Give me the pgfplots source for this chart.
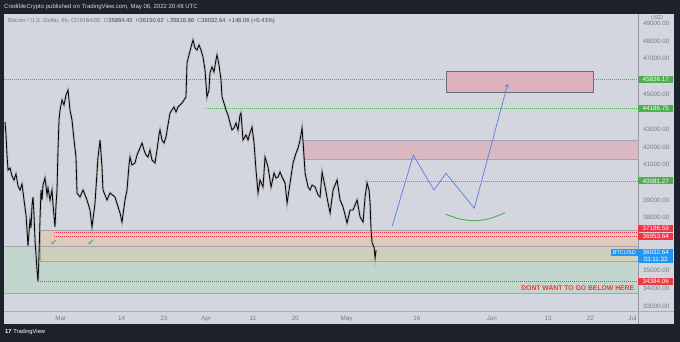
\documentclass[border=0pt]{standalone}
\usepackage{pgfplots}
\pgfplotsset{compat=1.18}
\usepackage{pgfplotstable}
\usetikzlibrary{arrows.meta}
\usepackage{fontspec}
\setmainfont{Liberation Sans}
\newfontfamily\dejavu{DejaVu Sans}
\definecolor{bgdark}{HTML}{1E222D}
\definecolor{pane}{HTML}{D3D6DE}
\definecolor{tvgray}{HTML}{787B86}
\definecolor{tvtext}{HTML}{434651}
\definecolor{tvgreen}{HTML}{4CAF50}
\definecolor{tvred}{HTML}{F23645}
\definecolor{tvblue}{HTML}{2196F3}
\definecolor{pinkbox}{HTML}{DDB2BD}
\definecolor{pinkbox2}{HTML}{D9B8C2}
\definecolor{boxborder}{HTML}{6A6D78}
\definecolor{tanzone}{HTML}{DCCBBD}
\definecolor{olivezone}{HTML}{CFD0B9}
\definecolor{greenzone}{HTML}{C3D6CD}
\definecolor{zoneline}{HTML}{A3A6AF}
\definecolor{pathblue}{HTML}{5C7CE0}
\definecolor{sepline}{HTML}{9598A1}

\pgfplotstableread{
d p
-11.88 43416
-11.67 42681
-11.46 41549
-11.24 40700
-10.82 40813
-10.39 40360
-9.96 40134
-9.54 40474
-9.11 39795
-8.68 39568
-8.26 39908
-7.83 39002
-7.40 38153
-7.19 37305
-6.98 36399
-6.76 37191
-6.55 37870
-6.34 37418
-6.12 38719
-5.91 39172
-5.70 38153
-5.48 36739
-5.27 35890
-5.06 35041
-4.84 34384
-4.63 35890
-4.42 37870
-4.20 39568
-3.99 39002
-3.78 39851
-3.35 40247
-2.92 39285
-2.71 39681
-2.28 39002
-1.86 39568
-1.64 38719
-1.22 37474
-1.00 38719
-0.79 39568
-0.58 41832
-0.36 43529
-0.15 44095
0.28 44661
0.70 44378
1.13 44944
1.56 45227
1.98 44095
2.41 43529
2.84 42398
3.26 41436
3.48 39398
4.12 39172
4.76 39568
5.61 39002
6.25 38436
6.68 37474
7.32 38832
7.96 41436
8.39 42398
8.81 40870
9.02 39568
9.88 39002
10.52 39398
11.58 39172
12.65 38267
13.08 37757
13.72 39002
14.15 39568
14.57 40983
14.79 41436
15.21 40983
15.85 41096
16.28 41549
16.92 41945
17.35 42228
17.77 41832
18.20 41549
18.63 41436
19.05 41832
19.48 41266
20.12 41096
20.55 41832
20.97 42681
21.19 42963
21.61 42398
22.04 42228
22.47 42567
22.89 43246
23.32 43926
23.75 44095
24.17 44265
24.60 43982
25.03 44265
25.45 44378
25.88 44491
26.31 44661
26.73 44831
26.95 46755
27.37 47208
27.80 47660
28.23 48057
28.65 47604
29.08 47491
29.51 47774
29.93 47491
30.36 47095
30.79 46359
31.21 44831
31.64 45227
31.85 46189
32.28 46529
32.71 46246
33.13 46925
33.35 47208
33.78 46642
34.20 45793
34.42 44831
34.84 44491
35.27 44095
35.70 43812
36.12 43360
36.55 42963
36.98 43077
37.40 43360
37.83 42963
38.26 43812
38.47 43926
38.90 42398
39.54 42681
39.97 42398
40.39 42794
40.82 43133
41.25 42228
41.67 40700
42.10 39398
42.53 40134
43.17 39738
43.60 41436
44.24 40870
44.88 39738
45.52 40530
45.95 40247
46.38 40304
46.80 40587
47.23 40304
47.87 39964
48.30 38832
48.94 39964
49.58 41096
50.22 41662
50.65 41945
51.07 42398
51.50 43077
51.93 41436
52.14 40530
52.78 39738
53.21 39568
53.64 39851
54.28 39738
54.92 39285
55.34 39172
55.77 40587
56.41 39738
57.05 38832
57.48 38267
58.12 39568
58.54 39851
58.97 40134
59.61 39002
60.25 38606
60.68 38153
61.10 37700
61.74 38436
62.38 38436
62.81 38719
63.24 39002
63.88 38040
64.52 37757
64.94 39172
65.37 39964
65.80 39568
66.01 38832
66.22 37305
66.44 36569
66.86 36342
67.08 35720
67.29 36173
}\btc

\begin{document}
\begin{tikzpicture}[x=1pt,y=1pt]
\fill[bgdark] (0,0) rectangle (680,342);
\fill[pane] (4,18) rectangle (674,328);
\draw[sepline, line width=0.6pt] (638,18) -- (638,328);
\draw[sepline!80, line width=0.8pt] (4,31) -- (674,31);

\begin{axis}[
  at={(4pt,31pt)}, anchor=south west,
  width=634pt, height=297pt, scale only axis,
  xmin=-12.10, xmax=123.18, ymin=32720.7, ymax=49528,
  axis line style={draw=none}, major tick length=0pt,
  clip=false,
  xtick={0,13,22,31,41,50,61,76,92,104,113,122},
  xticklabels={Mar,14,23,Apr,11,20,May,16,Jun,13,22,Jul},
  ytick={33000,34000,35000,38000,39000,41000,42000,43000,45000,47000,48000,49000},
  yticklabel pos=right,
  scaled y ticks=false,
  /pgf/number format/assume math mode=true,
  y tick label style={/pgf/number format/fixed, /pgf/number format/fixed zerofill, /pgf/number format/precision=2, /pgf/number format/1000 sep={}},
  tick label style={font=\fontsize{6.3}{7}\selectfont, text=tvgray},
  xticklabel style={anchor=base, yshift=-9.5pt},
  yticklabel style={anchor=west, inner sep=0pt, xshift=5pt},
]
% zones
\addplot[fill=greenzone, draw=none] coordinates {(-12.10,33722) (123.18,33722) (123.18,36359) (-12.10,36359)} --cycle;
\addplot[fill=tanzone, draw=none] coordinates {(-4.42,36359) (123.18,36359) (123.18,37264) (-4.42,37264)} --cycle;
\addplot[fill=olivezone, draw=none] coordinates {(-4.42,35510) (123.18,35510) (123.18,36359) (-4.42,36359)} --cycle;
\addplot[zoneline, line width=0.6pt] coordinates {(-12.10,33722) (123.18,33722)};
\addplot[zoneline, line width=0.6pt] coordinates {(-12.10,36359) (123.18,36359)};
\addplot[zoneline, line width=0.6pt] coordinates {(123.18,37264) (-4.42,37264) (-4.42,35510) (123.18,35510)};
% middle pink box
\addplot[fill=pinkbox2, draw=zoneline, line width=0.6pt] coordinates {(51.76,41305) (123.18,41305) (123.18,42358) (51.76,42358)} --cycle;
% dotted levels
\tikzset{lvl/.style={line width=0.8pt, dash pattern=on 0.8pt off 1.2pt}}
\addplot[tvred, lvl] coordinates {(-1.5,37186.59) (123.18,37186.59)};
\addplot[tvred, lvl] coordinates {(-1.5,36953.64) (123.18,36953.64)};
\addplot[tvred, lvl] coordinates {(-4.84,34384.06) (123.18,34384.06)};
\addplot[tvgreen, lvl] coordinates {(-12.10,45836.17) (123.18,45836.17)};
\addplot[tvgreen, lvl] coordinates {(31.0,44186.75) (123.18,44186.75)};
\addplot[tvgreen, lvl] coordinates {(64.94,40081.27) (123.18,40081.27)};
% upper pink box
\addplot[fill=pinkbox, draw=boxborder, line width=0.8pt] coordinates {(82.36,45074) (113.64,45074) (113.64,46302) (82.36,46302)} --cycle;
% price
\addplot[gray!70, line width=2.3pt, opacity=0.6] table {\btc};
\addplot[black, line width=0.8pt] table {\btc};
% projection
\addplot[pathblue, line width=0.7pt, -{Straight Barb[length=2.5pt,width=3.5pt]}] coordinates {(70.75,37530) (75.23,41548) (79.65,39568) (82.21,40513) (88.24,38532) (95.37,45567)};
\addplot[tvgreen, line width=0.9pt, smooth] coordinates {(82.14,38192) (85.19,37927) (88.39,37830) (91.6,37955) (94.8,38283)};
% checkmarks
\node[text=tvgreen, font=\dejavu\fontsize{8}{8}\selectfont, inner sep=0pt] at (axis cs:-1.43,36586) {✔};
\node[text=tvgreen, font=\dejavu\fontsize{8}{8}\selectfont, inner sep=0pt] at (axis cs:6.46,36586) {✔};
% text
\node[anchor=east, text=tvred, font=\bfseries\fontsize{6.8}{7}\selectfont, inner sep=0pt] at (axis cs:122.4,33994) {DONT WANT TO GO BELOW HERE};
% price labels
\tikzset{plab/.style={anchor=west, text=white, minimum width=35pt, minimum height=7pt, inner sep=0pt, font=\fontsize{6.3}{7}\selectfont}}
\node[plab, fill=tvgreen] at (axis cs:123.18,45836.17) {45836.17};
\node[plab, fill=tvgreen] at (axis cs:123.18,44186.75) {44186.75};
\node[plab, fill=tvgreen] at (axis cs:123.18,40081.27) {40081.27};
\node[plab, fill=tvred] at (axis cs:123.18,37378) {37186.59};
\node[plab, fill=tvred] at (axis cs:123.18,36937) {36953.64};
\node[plab, fill=tvblue] at (axis cs:123.18,36020) {36032.64};
\node[plab, fill=tvblue] at (axis cs:123.18,35635) {03:11:33};
\node[plab, fill=tvred] at (axis cs:123.18,34384.06) {34384.06};
\node[anchor=east, fill=tvblue, text=white, minimum height=7pt, inner xsep=2pt, inner ysep=0pt, font=\fontsize{5.6}{6}\selectfont] at (axis cs:123.18,36032.64) {BTCUSD};
\end{axis}

\node[anchor=center, inner sep=0.3pt, text=tvgray, font=\fontsize{5.6}{6}\selectfont] at (657,324.2) {USD};
\node[anchor=west, inner sep=0pt, text=pane, font=\fontsize{6}{7}\selectfont] at (4,335) {CredibleCrypto published on TradingView.com, May 06, 2022 20:48 UTC};
\node[anchor=west, inner sep=0pt, font=\fontsize{5.8}{7}\selectfont, text=tvgray] at (8,321.3) {Bitcoin / U.S. Dollar, 6h, COINBASE\enspace O\textcolor{tvtext}{35884.45}\enspace H\textcolor{tvtext}{36150.62}\enspace L\textcolor{tvtext}{35818.86}\enspace C\textcolor{tvtext}{36032.64}\enspace \textcolor{tvtext}{+148.06 (+0.41\%)}};
\node[anchor=west, inner sep=0pt, text=white, font=\fontsize{5.8}{7}\selectfont] at (5,10) {\textbf{17} TradingView};
\pgfresetboundingbox
\useasboundingbox (0,0) rectangle (680,342);
\end{tikzpicture}
\end{document}
